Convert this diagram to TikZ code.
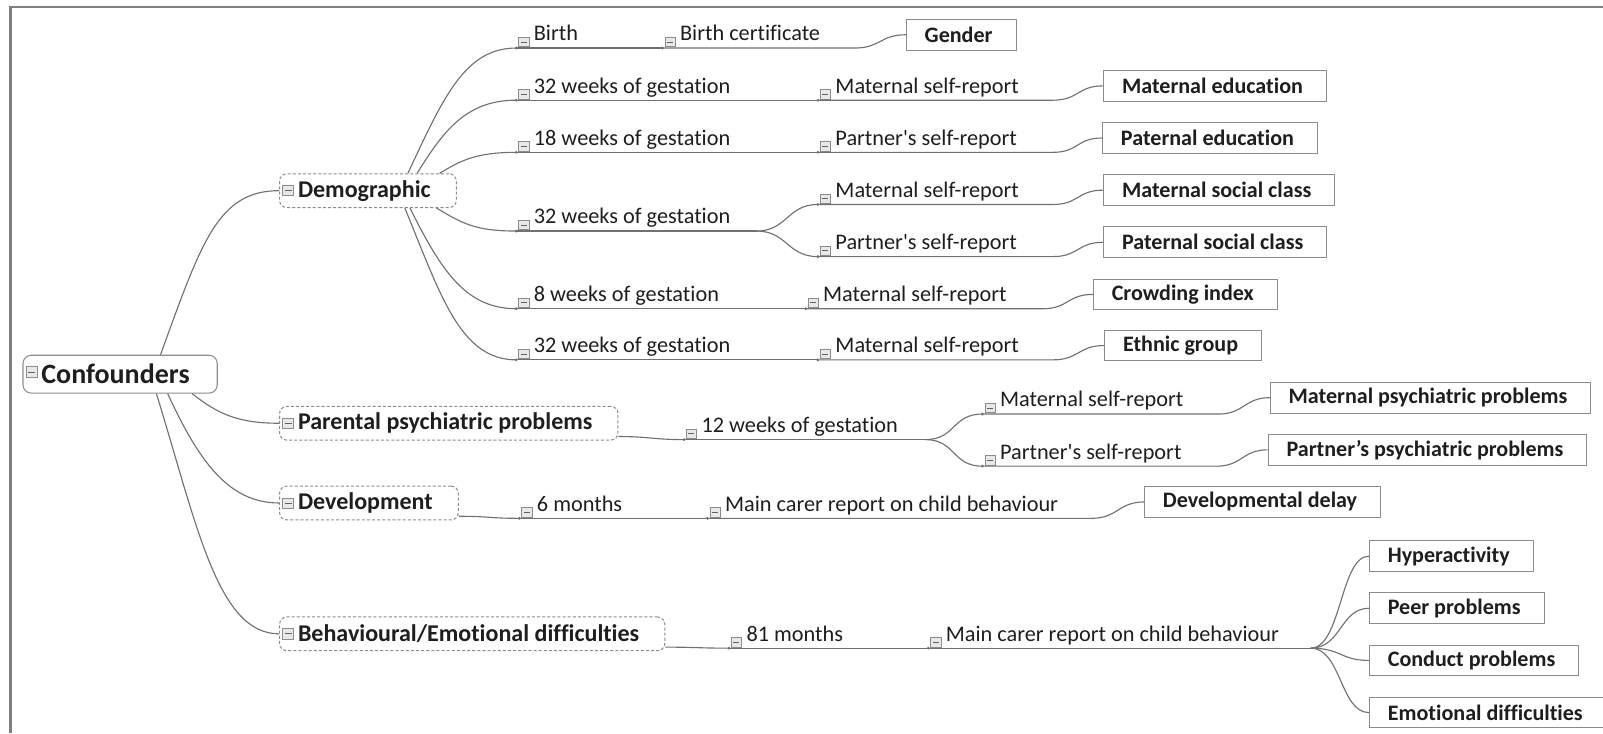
\documentclass[tikz,border=0pt]{standalone}
\usepackage{fontspec}
\setmainfont{Carlito}[Ligatures={NoCommon}]
\usetikzlibrary{calc}

\definecolor{ink}{HTML}{1E1E1E}
\definecolor{wire}{HTML}{707070}
\definecolor{rim}{HTML}{8C8C8C}
\definecolor{framegray}{HTML}{7F7F7F}

\tikzset{
  conn/.style={draw=wire, line width=1.1pt},
  root/.style={draw=rim, line width=1pt, rounded corners=8pt, anchor=west,
    minimum height=37pt, inner xsep=0pt, text=ink,
    font=\fontsize{27.4}{30}\selectfont\bfseries,
    execute at begin node=\hspace*{18pt}, execute at end node=\hspace*{27pt}},
  topic/.style={draw=rim, dash pattern=on 3pt off 2pt, line width=1pt,
    rounded corners=7pt, anchor=west, minimum height=33pt, inner xsep=0pt,
    text=ink, font=\fontsize{23.5}{26}\selectfont\bfseries,
    execute at begin node=\hspace*{18pt}, execute at end node=\hspace*{25pt}},
  leaf/.style={draw=rim, line width=1pt, anchor=west, minimum height=30pt,
    inner xsep=0pt, text=ink, font=\fontsize{21.6}{24}\selectfont\bfseries,
    execute at begin node=\hspace*{18pt}, execute at end node=\hspace*{23pt}},
  lbl/.style={anchor=base west, inner sep=0pt, text=ink,
    font=\fontsize{21.8}{24}\selectfont},
  tog/.style={draw=rim, fill=gray!18, line width=0.6pt, minimum width=10pt,
    minimum height=9pt, inner sep=0pt,
    path picture={\draw[ink!70, line width=0.8pt]
      ($(path picture bounding box.west)+(2pt,0)$) --
      ($(path picture bounding box.east)+(-2pt,0)$);}},
  jdot/.style={circle, fill=wire, inner sep=0pt, minimum size=3pt},
}

% a branch label: junction point, collapse toggle and text above the line
\newcommand\mmlabel[4]{%
  \coordinate (#1) at (#2,#3);
  \node[jdot] at (#1) {};
  \node[tog, anchor=south west] (#1-t) at ($(#1)+(2,-1)$) {};
  \node[lbl] (#1-l) at ($(#1)+(17,-7)$) {#4};
}

\begin{document}
\begin{tikzpicture}[x=1pt, y=-1pt]
\useasboundingbox (0,0) rectangle (1568,717);

% frame
\draw[framegray, line width=2.6pt] (10,717) -- (10,7) -- (1568,7);

% central topic and main topics
\node[root] (conf) at (22,366) {Confounders};
\node[tog, minimum width=11pt, minimum height=11pt, anchor=west] (conf-t) at ($(conf.west)+(3,-2)$) {};

\node[topic] (demo) at (273,186.5) {Demographic};
\node[topic] (par)  at (273,414) {Parental psychiatric problems};
\node[topic] (dev)  at (273,492) {Development};
\node[topic] (beh)  at (273,620) {Behavioural/Emotional difficulties};
\foreach \t in {demo,par,dev,beh}
  \node[tog, minimum width=11pt, minimum height=10pt, anchor=west] (\t-t) at ($(\t.west)+(3,0)$) {};

% branch labels
\mmlabel{d1}{505}{47}{Birth}
\mmlabel{d2}{505}{98}{32 weeks of gestation}
\mmlabel{d3}{505}{149}{18 weeks of gestation}
\mmlabel{d4}{505}{226}{32 weeks of gestation}
\mmlabel{d5}{505}{302}{8 weeks of gestation}
\mmlabel{d6}{505}{352}{32 weeks of gestation}

\mmlabel{e1}{648}{47}{Birth certificate}
\mmlabel{e2}{800}{98}{Maternal self-report}
\mmlabel{e3}{800}{149}{Partner\textquotesingle s self-report}
\mmlabel{e4a}{800}{200}{Maternal self-report}
\mmlabel{e4b}{800}{251}{Partner\textquotesingle s self-report}
\mmlabel{e5}{788}{302}{Maternal self-report}
\mmlabel{e6}{800}{352}{Maternal self-report}

\mmlabel{p1}{669}{430}{12 weeks of gestation}
\mmlabel{p2a}{961}{405}{Maternal self-report}
\mmlabel{p2b}{961}{456}{Partner\textquotesingle s self-report}

\mmlabel{v1}{508}{507}{6 months}
\mmlabel{v2}{692}{507}{Main carer report on child behaviour}

\mmlabel{h1}{713}{634}{81 months}
\mmlabel{h2}{908}{634}{Main carer report on child behaviour}

% outcome boxes
\node[leaf] (gender)  at (886,34)   {Gender};
\node[leaf] (matedu)  at (1079,84)  {Maternal education};
\node[leaf] (patedu)  at (1078,135) {Paternal education};
\node[leaf] (matsoc)  at (1079,186) {Maternal social class};
\node[leaf] (patsoc)  at (1079,237) {Paternal social class};
\node[leaf] (crowd)   at (1069,288) {Crowding index};
\node[leaf] (ethnic)  at (1080,338) {Ethnic group};
\node[leaf] (matpsy)  at (1242,389) {Maternal psychiatric problems};
\node[leaf] (parpsy)  at (1240,440) {Partner’s psychiatric problems};
\node[leaf] (devdel)  at (1119,491) {Developmental delay};
\node[leaf] (hyper)   at (1339,544) {Hyperactivity};
\node[leaf] (peer)    at (1339,595) {Peer problems};
\node[leaf] (conduct) at (1339,646) {Conduct problems};
\node[leaf] (emo)     at (1339,697) {Emotional difficulties};

% ends of the underlines, where the connectors bend away
\coordinate (e1e)  at (836,47);
\coordinate (e2e)  at (1030,98);
\coordinate (e3e)  at (1030,149);
\coordinate (e4ae) at (1030,200);
\coordinate (e4be) at (1030,251);
\coordinate (e5e)  at (1020,302);
\coordinate (e6e)  at (1030,352);
\coordinate (d4e)  at (740,226);
\coordinate (p1e)  at (905,430);
\coordinate (p2ae) at (1192,405);
\coordinate (p2be) at (1190,456);
\coordinate (v2e)  at (1068,507);
\coordinate (h2e)  at (1282,634);

% central topic to main topics
\draw[conn] ($(conf.north west)+(135,0)$) .. controls +(40,-110) and +(-60,0) .. (demo.west);
\draw[conn] ($(conf.south west)+(166,0)$) .. controls +(25,20) and +(-40,0) .. (par.west);
\draw[conn] ($(conf.south west)+(142,0)$) .. controls +(30,65) and +(-50,0) .. (dev.west);
\draw[conn] ($(conf.south west)+(131,0)$) .. controls +(40,130) and +(-60,0) .. (beh.west);

% demographic branches
\draw[conn] ($(demo.north west)+(126,0)$) .. controls +(35,-75) and +(-50,0) .. (d1);
\draw[conn] ($(demo.north west)+(135,0)$) .. controls +(25,-40) and +(-50,0) .. (d2);
\draw[conn] ($(demo.north west)+(157,0)$) .. controls +(20,-12) and +(-40,0) .. (d3);
\draw[conn] ($(demo.south west)+(154,0)$) .. controls +(25,15) and +(-40,0) .. (d4);
\draw[conn] ($(demo.south west)+(128,0)$) .. controls +(30,60) and +(-50,0) .. (d5);
\draw[conn] ($(demo.south west)+(123,0)$) .. controls +(35,85) and +(-55,0) .. (d6);

\draw[conn] (d1) -- (e1);
\draw[conn] (d2) -- (e2);
\draw[conn] (d3) -- (e3);
\draw[conn] (d4) -- (d4e);
\draw[conn] (d4e) .. controls +(30,0) and +(-30,0) .. (e4a);
\draw[conn] (d4e) .. controls +(30,0) and +(-30,0) .. (e4b);
\draw[conn] (d5) -- (e5);
\draw[conn] (d6) -- (e6);

\draw[conn] (e1)  -- (e1e)  .. controls +(25,0) and +(-25,0) .. (gender.west);
\draw[conn] (e2)  -- (e2e)  .. controls +(25,0) and +(-25,0) .. (matedu.west);
\draw[conn] (e3)  -- (e3e)  .. controls +(25,0) and +(-25,0) .. (patedu.west);
\draw[conn] (e4a) -- (e4ae) .. controls +(25,0) and +(-25,0) .. (matsoc.west);
\draw[conn] (e4b) -- (e4be) .. controls +(25,0) and +(-25,0) .. (patsoc.west);
\draw[conn] (e5)  -- (e5e)  .. controls +(25,0) and +(-25,0) .. (crowd.west);
\draw[conn] (e6)  -- (e6e)  .. controls +(25,0) and +(-25,0) .. (ethnic.west);

% parental psychiatric problems
\draw[conn] ($(par.south east)+(0,-4)$) .. controls +(30,0) and +(-30,0) .. (p1);
\draw[conn] (p1) -- (p1e);
\draw[conn] (p1e) .. controls +(30,0) and +(-30,0) .. (p2a);
\draw[conn] (p1e) .. controls +(30,0) and +(-30,0) .. (p2b);
\draw[conn] (p2a) -- (p2ae) .. controls +(25,0) and +(-25,0) .. (matpsy.west);
\draw[conn] (p2b) -- (p2be) .. controls +(25,0) and +(-25,0) .. (parpsy.west);

% development
\draw[conn] ($(dev.south east)+(0,-4)$) .. controls +(30,0) and +(-30,0) .. (v1);
\draw[conn] (v1) -- (v2);
\draw[conn] (v2) -- (v2e) .. controls +(25,0) and +(-25,0) .. (devdel.west);

% behavioural / emotional difficulties
\draw[conn] ($(beh.south east)+(0,-4)$) .. controls +(30,0) and +(-30,0) .. (h1);
\draw[conn] (h1) -- (h2);
\draw[conn] (h2) -- (h2e);
\foreach \t in {hyper,peer,conduct,emo}
  \draw[conn] (h2e) .. controls +(30,0) and +(-28,0) .. (\t.west);

\end{tikzpicture}
\end{document}
